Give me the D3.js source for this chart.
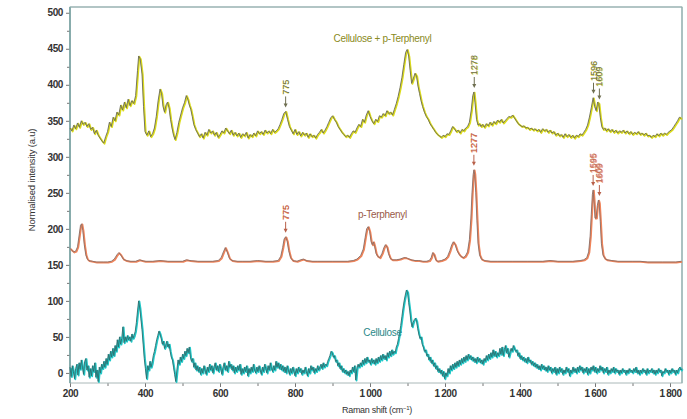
<!DOCTYPE html>
<html><head><meta charset="utf-8">
<script src="https://cdn.jsdelivr.net/npm/d3@7/dist/d3.min.js"></script>
<style>body{margin:0;background:#fff}svg{display:block}text{font-family:"Liberation Sans",Arial,sans-serif}</style>
</head><body>
<svg id="c" width="687" height="419"></svg>
<script>
const xTicks = [200,400,600,800,1000,1200,1400,1600,1800];
const yTicks = [0,50,100,150,200,250,300,350,400,450,500];
const seriesNames = ["Cellulose + p-Terphenyl","p-Terphenyl","Cellulose"];

const mixSpectrum = [[200,340],[205,336],[210,344],[215,339],[220,347],[225,341],[230,350],[235,345],[240,348],[245,342],[250,346],[255,338],[260,341],[265,332],[270,337],[275,330],[280,326],[285,322],[290,319],[295,328],[300,335],[305,348],[310,342],[315,355],[320,350],[325,362],[330,358],[335,372],[340,365],[345,376],[350,368],[355,380],[360,371],[365,378],[370,374],[375,385],[380,420],[383,440],[387,436],[392,415],[396,370],[400,335],[405,330],[410,336],[415,328],[420,332],[425,340],[430,356],[435,378],[440,394],[444,388],[448,370],[452,362],[456,372],[460,376],[464,368],[468,352],[472,340],[476,330],[480,324],[485,334],[490,348],[495,358],[500,368],[505,375],[510,385],[514,380],[518,372],[522,366],[526,356],[530,345],[535,338],[540,333],[545,328],[550,332],[555,326],[560,334],[565,330],[570,338],[575,333],[580,336],[585,330],[590,334],[595,327],[600,331],[605,336],[610,333],[615,340],[620,336],[625,332],[630,337],[635,330],[640,334],[645,329],[650,333],[655,327],[660,332],[665,329],[670,334],[675,326],[680,331],[685,328],[690,333],[695,329],[700,336],[705,332],[710,335],[715,331],[720,337],[725,333],[730,336],[735,332],[740,338],[745,334],[750,336],[755,339],[760,345],[765,352],[770,360],[775,363],[780,352],[785,342],[790,337],[795,332],[800,338],[805,331],[810,335],[815,329],[820,334],[825,330],[830,333],[835,327],[840,332],[845,328],[850,330],[855,326],[860,331],[865,334],[870,338],[875,333],[880,337],[885,342],[890,348],[895,354],[900,357],[905,352],[910,348],[915,342],[920,338],[925,334],[930,331],[935,328],[940,330],[945,327],[950,332],[955,336],[960,334],[965,340],[970,345],[975,342],[980,352],[985,348],[990,358],[995,364],[1000,356],[1005,350],[1010,346],[1015,352],[1020,349],[1025,357],[1030,355],[1035,360],[1040,357],[1045,364],[1050,360],[1055,362],[1060,358],[1065,366],[1070,374],[1075,384],[1080,396],[1085,410],[1090,428],[1095,445],[1099,449],[1103,440],[1107,420],[1111,402],[1115,408],[1120,416],[1124,412],[1128,398],[1132,388],[1136,378],[1140,370],[1145,362],[1150,356],[1155,352],[1160,346],[1165,342],[1170,338],[1175,334],[1180,331],[1185,329],[1190,327],[1195,330],[1200,328],[1205,332],[1210,331],[1215,336],[1220,342],[1225,339],[1230,335],[1235,337],[1240,333],[1245,338],[1250,336],[1255,340],[1260,342],[1265,348],[1270,365],[1274,385],[1277,390],[1280,375],[1284,352],[1288,344],[1292,346],[1296,342],[1300,345],[1305,341],[1310,346],[1315,343],[1320,348],[1325,344],[1330,349],[1335,346],[1340,351],[1345,348],[1350,352],[1355,347],[1360,350],[1365,353],[1370,356],[1375,355],[1380,358],[1385,354],[1390,350],[1395,346],[1400,344],[1405,342],[1410,343],[1415,340],[1420,341],[1425,338],[1430,340],[1435,337],[1440,339],[1445,336],[1450,338],[1455,334],[1460,339],[1465,336],[1470,338],[1475,334],[1480,337],[1485,333],[1490,335],[1495,330],[1500,333],[1505,329],[1510,331],[1515,327],[1520,332],[1525,328],[1530,331],[1535,327],[1540,330],[1545,326],[1550,330],[1555,328],[1560,332],[1565,330],[1570,334],[1575,338],[1580,344],[1585,355],[1590,368],[1595,382],[1599,370],[1603,364],[1607,376],[1610,374],[1614,355],[1618,342],[1622,338],[1626,340],[1630,336],[1635,339],[1640,335],[1645,338],[1650,334],[1655,337],[1660,333],[1665,336],[1670,334],[1675,337],[1680,333],[1685,336],[1690,332],[1695,335],[1700,331],[1705,334],[1710,332],[1715,335],[1720,331],[1725,333],[1730,330],[1735,333],[1740,329],[1745,330],[1750,327],[1755,330],[1760,328],[1765,332],[1770,329],[1775,333],[1780,330],[1785,333],[1790,331],[1795,334],[1800,336],[1805,338],[1810,342],[1815,346],[1820,350],[1825,355],[1830,353]];

const terphenylSpectrum = [[200,173],[205,170],[210,168],[215,169],[220,175],[224,190],[228,205],[231,207],[234,198],[238,178],[242,164],[246,158],[250,156],[260,155],[270,154],[280,154],[290,154],[300,154],[310,155],[318,158],[325,164],[330,167],[335,164],[342,158],[350,156],[360,155],[375,155],[385,157],[392,156],[400,155],[420,155],[440,156],[460,155],[480,155],[500,155],[510,157],[520,156],[540,155],[560,155],[580,155],[595,156],[603,160],[609,168],[614,174],[619,168],[625,159],[632,156],[645,155],[660,155],[680,155],[700,156],[720,155],[740,155],[755,156],[762,162],[767,174],[771,186],[775,189],[779,183],[783,170],[788,160],[794,156],[805,155],[815,157],[822,158],[830,156],[845,155],[860,155],[880,155],[900,155],[920,155],[940,155],[955,156],[965,158],[975,163],[982,172],[987,188],[991,200],[995,203],[999,196],[1003,182],[1006,178],[1009,182],[1012,176],[1016,166],[1020,162],[1026,160],[1032,166],[1037,174],[1041,178],[1045,175],[1049,166],[1054,159],[1060,157],[1070,157],[1080,158],[1090,160],[1095,160],[1100,159],[1110,157],[1120,156],[1130,156],[1140,155],[1150,155],[1158,156],[1163,160],[1167,167],[1171,164],[1175,157],[1180,155],[1190,156],[1200,158],[1207,162],[1213,170],[1218,178],[1222,182],[1227,178],[1232,170],[1237,165],[1242,162],[1248,160],[1254,162],[1260,168],[1265,185],[1269,215],[1272,250],[1275,275],[1277,282],[1279,276],[1282,250],[1285,212],[1288,180],[1292,164],[1297,158],[1305,156],[1320,155],[1340,155],[1360,155],[1380,155],[1400,155],[1420,155],[1440,155],[1460,155],[1480,156],[1500,155],[1520,155],[1540,155],[1560,156],[1570,157],[1578,160],[1583,168],[1587,190],[1590,220],[1593,248],[1595,254],[1597,240],[1600,215],[1603,215],[1606,232],[1609,240],[1611,236],[1614,210],[1617,180],[1621,164],[1626,159],[1632,157],[1645,156],[1660,155],[1680,155],[1700,155],[1720,155],[1740,154],[1760,154],[1780,154],[1800,154],[1815,154],[1830,155]];

const celluloseSpectrum = [[200,8],[203,-5],[206,10],[209,2],[212,-8],[215,6],[218,12],[221,-3],[224,14],[227,5],[230,18],[233,8],[236,-2],[239,16],[242,20],[245,4],[248,10],[251,-6],[254,6],[257,-4],[260,10],[263,2],[266,14],[269,-6],[272,4],[275,-12],[278,8],[281,0],[284,12],[287,6],[290,16],[293,8],[296,20],[299,12],[302,26],[305,18],[308,30],[311,22],[314,34],[317,24],[320,38],[323,30],[326,46],[329,36],[332,50],[335,40],[338,48],[341,64],[344,42],[347,50],[350,44],[353,52],[356,46],[359,50],[362,44],[365,54],[368,48],[371,52],[374,58],[377,70],[380,86],[383,100],[386,90],[389,75],[392,60],[395,40],[398,20],[401,6],[404,-8],[407,10],[410,4],[413,16],[416,8],[419,14],[422,24],[425,30],[428,38],[431,46],[434,52],[437,58],[440,54],[443,48],[446,40],[449,44],[452,34],[455,38],[458,44],[461,36],[464,40],[467,30],[470,22],[473,18],[476,8],[479,-2],[482,-12],[485,4],[488,18],[491,12],[494,22],[497,16],[500,26],[503,20],[506,30],[509,24],[512,34],[515,28],[518,36],[521,22],[524,16],[527,20],[530,8],[533,14],[536,4],[539,10],[542,2],[545,8],[548,-2],[551,6],[554,0],[557,10],[560,4],[563,-2],[566,8],[569,2],[572,12],[575,4],[578,10],[581,0],[584,8],[587,14],[590,4],[593,10],[596,2],[599,12],[602,6],[605,-2],[608,8],[611,14],[614,4],[617,10],[620,2],[623,16],[626,8],[629,12],[632,4],[635,10],[638,0],[641,8],[644,2],[647,10],[650,4],[653,12],[656,-2],[659,6],[662,0],[665,8],[668,2],[671,10],[674,-4],[677,6],[680,0],[683,8],[686,2],[689,12],[692,4],[695,0],[698,8],[701,2],[704,10],[707,4],[710,-2],[713,8],[716,2],[719,12],[722,6],[725,0],[728,10],[731,4],[734,14],[737,6],[740,2],[743,10],[746,4],[749,16],[752,8],[755,14],[758,6],[761,12],[764,4],[767,10],[770,2],[773,8],[776,0],[779,10],[782,4],[785,-2],[788,6],[791,0],[794,8],[797,2],[800,-4],[803,6],[806,0],[809,8],[812,2],[815,6],[818,-2],[821,4],[824,0],[827,8],[830,2],[833,-4],[836,6],[839,0],[842,10],[845,4],[848,8],[851,0],[854,6],[857,2],[860,10],[863,4],[866,8],[869,12],[872,6],[875,14],[878,8],[881,12],[884,10],[887,16],[890,20],[893,24],[896,30],[899,28],[902,22],[905,24],[908,16],[911,18],[914,10],[917,14],[920,6],[923,10],[926,2],[929,6],[932,0],[935,4],[938,-2],[941,2],[944,-4],[947,4],[950,0],[953,8],[956,2],[959,10],[962,-10],[965,6],[968,12],[971,8],[974,14],[977,10],[980,18],[983,12],[986,20],[989,14],[992,22],[995,16],[998,18],[1001,12],[1004,20],[1007,14],[1010,18],[1013,12],[1016,20],[1019,14],[1022,22],[1025,16],[1028,24],[1031,18],[1034,26],[1037,20],[1040,24],[1043,18],[1046,28],[1049,22],[1052,30],[1055,24],[1058,32],[1061,26],[1064,30],[1067,28],[1070,36],[1073,40],[1076,48],[1079,56],[1082,66],[1085,78],[1088,90],[1091,100],[1094,108],[1097,115],[1100,112],[1103,98],[1106,86],[1109,72],[1112,64],[1115,70],[1118,74],[1121,76],[1124,72],[1127,62],[1130,54],[1133,48],[1136,50],[1139,40],[1142,36],[1145,30],[1148,32],[1151,24],[1154,26],[1157,18],[1160,22],[1163,14],[1166,18],[1169,10],[1172,14],[1175,6],[1178,10],[1181,2],[1184,6],[1187,0],[1190,4],[1193,-4],[1196,2],[1199,-8],[1202,0],[1205,-4],[1208,6],[1211,0],[1214,10],[1217,4],[1220,12],[1223,6],[1226,14],[1229,8],[1232,16],[1235,10],[1238,18],[1241,12],[1244,20],[1247,14],[1250,22],[1253,16],[1256,24],[1259,18],[1262,26],[1265,20],[1268,24],[1271,18],[1274,22],[1277,16],[1280,20],[1283,14],[1286,22],[1289,16],[1292,20],[1295,14],[1298,18],[1301,12],[1304,20],[1307,16],[1310,24],[1313,18],[1316,26],[1319,20],[1322,28],[1325,22],[1328,32],[1331,24],[1334,30],[1337,22],[1340,28],[1343,24],[1346,34],[1349,26],[1352,36],[1355,24],[1358,32],[1361,38],[1364,28],[1367,34],[1370,22],[1373,28],[1376,34],[1379,30],[1382,38],[1385,34],[1388,30],[1391,32],[1394,24],[1397,28],[1400,20],[1403,24],[1406,18],[1409,22],[1412,16],[1415,20],[1418,14],[1421,22],[1424,16],[1427,18],[1430,12],[1433,16],[1436,10],[1439,14],[1442,8],[1445,12],[1448,6],[1451,10],[1454,4],[1457,12],[1460,6],[1463,10],[1466,4],[1469,8],[1472,2],[1475,10],[1478,4],[1481,8],[1484,0],[1487,6],[1490,2],[1493,8],[1496,-2],[1499,6],[1502,0],[1505,8],[1508,2],[1511,6],[1514,-2],[1517,4],[1520,0],[1523,8],[1526,2],[1529,6],[1532,-4],[1535,4],[1538,0],[1541,8],[1544,2],[1547,6],[1550,0],[1553,8],[1556,2],[1559,10],[1562,4],[1565,8],[1568,0],[1571,6],[1574,2],[1577,8],[1580,-2],[1583,6],[1586,0],[1589,8],[1592,4],[1595,10],[1598,2],[1601,8],[1604,0],[1607,6],[1610,2],[1613,10],[1616,4],[1619,8],[1622,0],[1625,6],[1628,2],[1631,8],[1634,-2],[1637,4],[1640,0],[1643,6],[1646,2],[1649,8],[1652,0],[1655,6],[1658,2],[1661,4],[1664,-2],[1667,4],[1670,0],[1673,6],[1676,2],[1679,4],[1682,-2],[1685,4],[1688,0],[1691,6],[1694,2],[1697,4],[1700,0],[1703,6],[1706,2],[1709,8],[1712,0],[1715,4],[1718,-2],[1721,4],[1724,0],[1727,6],[1730,2],[1733,4],[1736,-2],[1739,6],[1742,0],[1745,4],[1748,2],[1751,6],[1754,0],[1757,4],[1760,-2],[1763,4],[1766,0],[1769,6],[1772,2],[1775,4],[1778,-4],[1781,2],[1784,0],[1787,6],[1790,2],[1793,4],[1796,-2],[1799,4],[1802,0],[1805,6],[1808,2],[1811,4],[1814,-2],[1817,4],[1820,0],[1823,6],[1826,8],[1829,4],[1832,6]];

// peak annotations: [shift, label, peak intensity]
const mixPeaks = [[775,"775",363],[1278,"1278",390],[1596,"1596",382],[1609,"1609",374]];
const terphenylPeaks = [[775,"775",189],[1277,"1277",282],[1595,"1595",254],[1609,"1609",240]];
// series label anchor: [shift, intensity]
const labelPos = [[1100,460],[1100,215],[1100,51]];

const svg = d3.select("#c");
const L=70,R=682,T=7,B=383;
const x = d3.scaleLinear().domain([200,1832]).range([L,R]);
const y = d3.scaleLinear().domain([-14,508]).range([B,T]);

const frameCol = "#6f9c9c";
// minor ticks
const gy = svg.append("g").attr("transform",`translate(${L},0)`)
  .call(d3.axisLeft(y).tickValues(yTicks).tickSize(4).tickPadding(3).tickFormat(d3.format("d")));
svg.append("g").attr("transform",`translate(${L},0)`)
  .call(d3.axisLeft(y).tickValues(d3.range(25,500,50)).tickSize(3).tickFormat(""))
  .call(g=>g.select(".domain").remove());
const fmt = d => d>=1000 ? String(d).replace(/(\d)(\d{3})$/,"$1\u2009$2") : String(d);
const gx = svg.append("g").attr("transform",`translate(0,${B})`)
  .call(d3.axisBottom(x).tickValues(xTicks).tickSize(4).tickPadding(3).tickFormat(fmt));
svg.append("g").attr("transform",`translate(0,${B})`)
  .call(d3.axisBottom(x).tickValues(d3.range(300,1832,200)).tickSize(3).tickFormat(""))
  .call(g=>g.select(".domain").remove());
svg.selectAll(".tick line").attr("stroke","#777");
svg.selectAll(".domain").remove();
svg.selectAll(".tick text").attr("font-size","10px").attr("fill","#333").attr("font-weight","bold").style("letter-spacing","-0.4px");

// frame
svg.append("rect").attr("x",L).attr("y",T).attr("width",R-L).attr("height",B-T)
  .attr("fill","none").attr("stroke","#aab8b8").attr("stroke-width",1);
svg.append("line").attr("x1",L).attr("x2",L).attr("y1",T).attr("y2",B).attr("stroke",frameCol).attr("stroke-width",1.5);
svg.append("line").attr("x1",R).attr("x2",R).attr("y1",T).attr("y2",B).attr("stroke","#8fb0b0").attr("stroke-width",1.2);
svg.append("line").attr("x1",L).attr("x2",R).attr("y1",T).attr("y2",T).attr("stroke","#8fb0b0").attr("stroke-width",1.2);

const line = d3.line().x(d=>x(d[0])).y(d=>y(d[1]));
const styles = [
  {data:mixSpectrum, glow:"#dcdc1c", dark:"#6a6a58", text:"#8a8a22"},
  {data:terphenylSpectrum, glow:"#f0845a", dark:"#8a6e66", text:"#9a5a48"},
  {data:celluloseSpectrum, glow:"#22c8c8", dark:"#2e6e6e", text:"#2a8888"}
];
const plot = svg.append("g");
styles.forEach((s,i)=>{
  plot.append("path").datum(s.data).attr("d",line).attr("fill","none")
    .attr("stroke",s.glow).attr("stroke-width",1.8).attr("transform","translate(0.8,0.6)").attr("stroke-linejoin","round");
  plot.append("path").datum(s.data).attr("d",line).attr("fill","none")
    .attr("stroke",s.dark).attr("stroke-width",0.9).attr("stroke-linejoin","round");
  plot.append("text").attr("x",x(labelPos[i][0])-25).attr("y",y(labelPos[i][1]))
    .attr("text-anchor","middle").attr("font-size","10px").attr("fill",s.text)
    .style("letter-spacing","-0.3px").text(seriesNames[i]);
});

function annotate(peaks, col, glow){
  peaks.forEach((p,i)=>{
    const px = x(p[0]) + (i===3?1:0);
    const tip = y(p[2]) - 4;
    const tail = tip - 11;
    const g = plot.append("g");
    g.append("line").attr("x1",px).attr("x2",px).attr("y1",tail).attr("y2",tip-3)
      .attr("stroke",col).attr("stroke-width",1);
    g.append("path").attr("d",`M${px-2},${tip-4}L${px+2},${tip-4}L${px},${tip}Z`).attr("fill",col);
    [[glow,0.6],[col,0]].forEach(([c,o])=>{
      g.append("text").attr("transform",`translate(${px+3+o},${tail-2+o}) rotate(-90)`)
        .attr("font-size","9px").attr("fill",c).attr("text-anchor","start").text(p[1]);
    });
  });
}
annotate(mixPeaks,"#6e6e50","#d8d830");
annotate(terphenylPeaks,"#b8604a","#f08a60");

svg.append("text").attr("x",377).attr("y",413).attr("text-anchor","middle")
  .attr("font-size","9px").attr("fill","#333").style("letter-spacing","-0.3px")
  .html("Raman shift (cm<tspan dy='-3' font-size='6px'>−1</tspan><tspan dy='3'>)</tspan>");
svg.append("text").attr("transform","translate(35,180) rotate(-90)").attr("text-anchor","middle")
  .attr("font-size","9.5px").attr("fill","#333").style("letter-spacing","-0.2px")
  .text("Normalised intensity (a.u)");
</script>
</body></html>
